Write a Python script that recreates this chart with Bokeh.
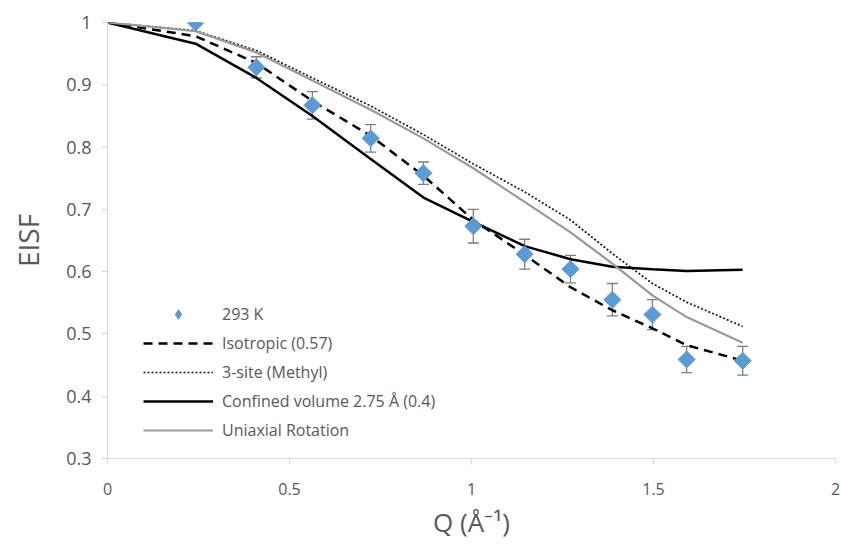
import math
from bokeh.plotting import figure
from bokeh.models import (Range1d, FixedTicker, ColumnDataSource, Whisker, TeeHead, Legend,
                          LegendItem, CDSView, IndexFilter)
from bokeh.embed import file_html
from bokeh.resources import INLINE

# Experimental data (293 K)
q_data = [0.242, 0.409, 0.563, 0.723, 0.868, 1.005, 1.146, 1.272, 1.387, 1.497, 1.591, 1.745]
eisf_data = [1.000, 0.928, 0.867, 0.814, 0.758, 0.673, 0.628, 0.604, 0.555, 0.531, 0.459, 0.457]
eisf_err = [0.0, 0.017, 0.022, 0.022, 0.018, 0.027, 0.024, 0.022, 0.026, 0.024, 0.021, 0.023]

# Model curves
q_model = [0, 0.242, 0.409, 0.563, 0.723, 0.868, 1.005, 1.146, 1.272, 1.387, 1.497, 1.591, 1.745]
isotropic = [1.0, 0.978, 0.935, 0.874, 0.818, 0.754, 0.683, 0.627, 0.575, 0.538, 0.509, 0.482, 0.457]
three_site = [1.0, 0.987, 0.955, 0.911, 0.866, 0.820, 0.773, 0.728, 0.683, 0.629, 0.581, 0.551, 0.512]
confined = [1.0, 0.966, 0.911, 0.850, 0.781, 0.719, 0.680, 0.641, 0.620, 0.608, 0.604, 0.601, 0.603]
uniaxial = [1.0, 0.986, 0.952, 0.907, 0.860, 0.814, 0.766, 0.712, 0.663, 0.613, 0.562, 0.527, 0.486]

labels = ["293 K", "Isotropic (0.57)", "3-site (Methyl)", "Confined volume 2.75 Å (0.4)", "Uniaxial Rotation"]
x_ticks = [0, 0.5, 1, 1.5, 2]
y_ticks = [0.3, 0.4, 0.5, 0.6, 0.7, 0.8, 0.9, 1.0]

FONT = "Open Sans"
TXT = "#595959"
AX = "#d9d9d9"
BLUE = "#5b9bd5"

p = figure(width=842, height=545, output_backend="svg", toolbar_location=None,
           x_range=Range1d(0, 2), y_range=Range1d(0.3, 1.0),
           min_border_left=107, min_border_right=7, min_border_top=22, min_border_bottom=87)
p.outline_line_color = None
p.xgrid.visible = False
p.ygrid.visible = False
p.background_fill_color = "white"
p.border_fill_color = "white"

for ax in (p.xaxis[0], p.yaxis[0]):
    ax.axis_line_color = AX
    ax.major_tick_line_color = AX
    ax.minor_tick_line_color = None
    ax.major_tick_out = 6
    ax.major_tick_in = 0
    ax.major_label_text_color = TXT
    ax.major_label_text_font = FONT
    ax.axis_label_text_color = TXT
    ax.axis_label_text_font = FONT
    ax.axis_label_text_font_style = "normal"

p.xaxis[0].ticker = FixedTicker(ticks=x_ticks)
p.yaxis[0].ticker = FixedTicker(ticks=y_ticks)
p.xaxis[0].major_label_overrides = {0: "0", 0.5: "0.5", 1: "1", 1.5: "1.5", 2: "2"}
p.yaxis[0].major_label_overrides = {1.0: "1", 1: "1"}
p.xaxis[0].major_label_text_font_size = "16px"
p.yaxis[0].major_label_text_font_size = "18px"
p.xaxis[0].major_label_standoff = 18
p.yaxis[0].major_label_standoff = 10
p.xaxis[0].axis_label = "Q (Å⁻¹)"
p.yaxis[0].axis_label = "EISF"
p.xaxis[0].axis_label_text_font_size = "26px"
p.yaxis[0].axis_label_text_font_size = "28px"
p.xaxis[0].axis_label_standoff = 6
p.yaxis[0].axis_label_standoff = 16

# error bars
src = ColumnDataSource(dict(q=q_data, y=eisf_data,
                            lo=[v - e for v, e in zip(eisf_data, eisf_err)],
                            hi=[v + e for v, e in zip(eisf_data, eisf_err)]))
wh = Whisker(base="q", lower="lo", upper="hi", source=src, line_color="#7f7f7f", line_width=1.3,
             upper_head=TeeHead(size=11, line_color="#7f7f7f", line_width=1.3),
             lower_head=TeeHead(size=11, line_color="#7f7f7f", line_width=1.3))
p.add_layout(wh)

r_iso = p.line(q_model, isotropic, line_color="black", line_width=2.5, line_dash="9 6")
r_3s = p.line(q_model, three_site, line_color="#1a1a1a", line_width=1.7, line_dash="2 2")
r_conf = p.line(q_model, confined, line_color="black", line_width=2.5)
r_uni = p.line(q_model, uniaxial, line_color="#9a9a9a", line_width=2.2)
# legend swatch: a diamond on the first point, hidden beneath the rotated-square marker
r_key = p.scatter("q", "y", source=src, view=CDSView(filter=IndexFilter(indices=[0])),
                  marker="diamond", size=17, fill_color=BLUE, line_color=BLUE)
r_pts = p.scatter("q", "y", source=src, marker="square", size=12, angle=math.pi / 4,
                  fill_color=BLUE, line_color=BLUE)

legend = Legend(items=[LegendItem(label=labels[0], renderers=[r_key]),
                       LegendItem(label=labels[1], renderers=[r_iso]),
                       LegendItem(label=labels[2], renderers=[r_3s]),
                       LegendItem(label=labels[3], renderers=[r_conf]),
                       LegendItem(label=labels[4], renderers=[r_uni])],
                location=(36, 16), orientation="vertical",
                glyph_width=70, glyph_height=24, spacing=5, label_standoff=9,
                padding=4, margin=0,
                label_text_font=FONT, label_text_font_size="16px", label_text_color=TXT,
                border_line_color=None, background_fill_alpha=0)
p.add_layout(legend)

open("out.html", "w").write(file_html(p, INLINE))
